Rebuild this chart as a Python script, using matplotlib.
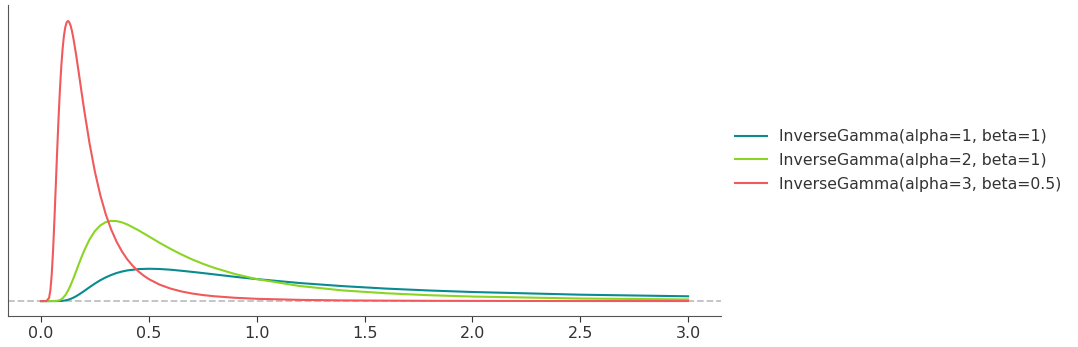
import numpy as np
import matplotlib.pyplot as plt

# values
x_red = [0.0, 0.025, 0.0375, 0.04375, 0.05, 0.05625, 0.0625, 0.06875, 0.075, 0.08125, 0.0875, 0.09375,
         0.1, 0.10625, 0.1125, 0.11875, 0.125, 0.13125, 0.1375, 0.14375, 0.15, 0.1625, 0.175, 0.1875,
         0.2, 0.225, 0.25, 0.275, 0.3, 0.325, 0.35, 0.375, 0.4, 0.425, 0.45, 0.475, 0.5, 0.55, 0.6,
         0.65, 0.7, 0.75, 0.8, 0.9, 1.0, 1.2, 1.4, 1.6, 1.8, 2.0, 2.5, 3.0]
y_red = [0.0, 0.0003, 0.051, 0.186, 0.454, 0.860, 1.374, 1.942, 2.514, 3.046, 3.516, 3.906,
         4.211, 4.436, 4.581, 4.664, 4.689, 4.665, 4.610, 4.518, 4.404, 4.131, 3.827, 3.514,
         3.206, 2.643, 2.165, 1.774, 1.457, 1.202, 0.998, 0.833, 0.699, 0.591, 0.502, 0.429, 0.368, 0.275, 0.210,
         0.162, 0.127, 0.101, 0.082, 0.055, 0.038, 0.020, 0.011, 0.007, 0.0045, 0.003, 0.0013, 0.0007]

x_mid = [0.0, 0.05, 0.075, 0.0875, 0.1, 0.1125, 0.125, 0.1375, 0.15, 0.1625, 0.175, 0.1875, 0.2, 0.225, 0.25,
         0.275, 0.3, 0.325, 0.35, 0.375, 0.4, 0.45, 0.5, 0.55, 0.6, 0.65, 0.7, 0.75, 0.8, 0.9, 1.0,
         1.2, 1.4, 1.6, 1.8, 2.0, 2.5, 3.0]
y_green = [0.0, 0.0, 0.004, 0.016, 0.045, 0.097, 0.172, 0.267, 0.377, 0.495, 0.615, 0.732, 0.842, 1.031, 1.172,
           1.267, 1.321, 1.343, 1.339, 1.318, 1.283, 1.189, 1.083, 0.975, 0.875, 0.782, 0.699, 0.625, 0.560, 0.452, 0.368,
           0.252, 0.178, 0.131, 0.098, 0.076, 0.043, 0.027]
y_teal = [0.0, 0.0, 0.0003, 0.0014, 0.0045, 0.011, 0.0215, 0.037, 0.057, 0.080, 0.108, 0.137, 0.168, 0.232, 0.293,
          0.349, 0.396, 0.436, 0.469, 0.494, 0.513, 0.535, 0.541, 0.537, 0.525, 0.508, 0.489, 0.469, 0.448, 0.406, 0.368,
          0.302, 0.250, 0.209, 0.177, 0.152, 0.107, 0.080]

labels = ['InverseGamma(alpha=1, beta=1)', 'InverseGamma(alpha=2, beta=1)', 'InverseGamma(alpha=3, beta=0.5)']
colors = ['#0a8b8f', '#8ad524', '#f05a5c']

fig = plt.figure(figsize=(10.78, 3.47), dpi=100)
ax = fig.add_axes([0.0074, 0.0893, 0.6615, 0.897])

ax.plot(x_mid, y_teal, color=colors[0], lw=1.5, label=labels[0])
ax.plot(x_mid, y_green, color=colors[1], lw=1.5, label=labels[1])
ax.plot(x_red, y_red, color=colors[2], lw=1.5, label=labels[2])
ax.axhline(0, color='#c0c0c0', ls='--', lw=1.3, zorder=0)

ax.set_xlim(-0.153, 3.153)
ax.set_ylim(-0.25, 4.96)
ax.set_yticks([])
ax.set_xticks([0.0, 0.5, 1.0, 1.5, 2.0, 2.5, 3.0])
ax.tick_params(axis='x', labelsize=11.5, colors='#333333', length=4)
for s in ['top', 'right']:
    ax.spines[s].set_visible(False)
for s in ['left', 'bottom']:
    ax.spines[s].set_color('#555555')

ax.legend(loc='center left', bbox_to_anchor=(1.0, 0.5), frameon=False, fontsize=11.3,
          labelcolor='#333333', handletextpad=0.8, labelspacing=0.55)

fig.savefig('out.png', dpi=100)
